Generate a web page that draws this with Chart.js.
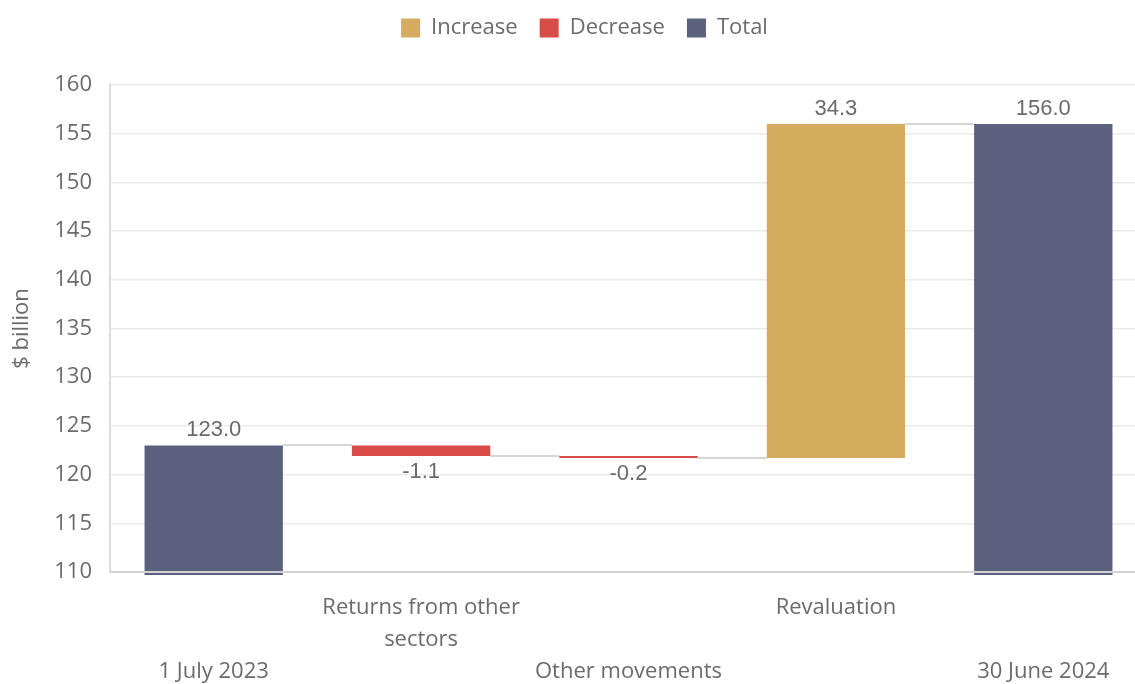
<!DOCTYPE html>
<html>
<head>
<meta charset="utf-8">
<script src="https://cdn.jsdelivr.net/npm/chart.js@4.4.1/dist/chart.umd.min.js"></script>
<style>
  html, body { margin: 0; padding: 0; background: #fff; overflow: hidden; }
  #wrap { width: 1147px; height: 684px; position: relative; }
</style>
</head>
<body>
<div id="wrap"><canvas id="chart"></canvas></div>
<script>
// staggered category labels: blank lines push every other label down
const categories = [
  ['', '', '1 July 2023'],
  ['Returns from other', 'sectors'],
  ['', '', 'Other movements'],
  ['Revaluation'],
  ['', '', '30 June 2024']
];
const steps = [123.0, -1.1, -0.2, 34.3, 156.0];
const stepKinds = ['total', 'decrease', 'decrease', 'increase', 'total'];
const stepLabels = ['123.0', '-1.1', '-0.2', '34.3', '156.0'];
const yMin = 110;
const yMax = 160;
const yStep = 5;

const colors = {
    increase: '#D6AC5E',
    decrease: '#D84B46',
    total: '#5A607E'
};
const legendNames = { increase: 'Increase', decrease: 'Decrease', total: 'Total' };

const textGrey = '#6b6b6b';
const uiFont = '"Open Sans", "Noto Sans", sans-serif';

// running totals -> floating bars
let running = 0;
const ranges = steps.map((v, i) => {
    if (stepKinds[i] === 'total') {
        running = v;
        return [0, v];
    }
    const start = running;
    running = Math.round((running + v) * 10) / 10;
    return [start, running];
});
const levels = ranges.map(r => r[1]);

const connectorPlugin = {
    id: 'connectors',
    beforeDatasetsDraw(chart) {
        const ctx = chart.ctx;
        const meta = chart.getDatasetMeta(0);
        const y = chart.scales.y;
        ctx.save();
        ctx.strokeStyle = '#d6d6d6';
        ctx.lineWidth = 2;
        for (let i = 0; i < meta.data.length - 1; i++) {
            const a = meta.data[i];
            const b = meta.data[i + 1];
            const py = Math.round(y.getPixelForValue(levels[i]));
            ctx.beginPath();
            ctx.moveTo(a.x + a.width / 2, py);
            ctx.lineTo(b.x - b.width / 2, py);
            ctx.stroke();
        }
        ctx.restore();
    },
    afterDatasetsDraw(chart) {
        const ctx = chart.ctx;
        const area = chart.chartArea;
        const meta = chart.getDatasetMeta(0);
        ctx.save();
        // bottom axis line sits over the bars
        ctx.strokeStyle = '#d2d2d6';
        ctx.lineWidth = 2;
        ctx.beginPath();
        ctx.moveTo(area.left, area.bottom);
        ctx.lineTo(area.right, area.bottom);
        ctx.stroke();

        ctx.font = '22px "Liberation Sans", Arial, sans-serif';
        ctx.fillStyle = textGrey;
        ctx.textAlign = 'center';
        ctx.textBaseline = 'middle';
        meta.data.forEach((bar, i) => {
            const top = Math.min(bar.y, bar.base);
            const bottom = Math.max(bar.y, bar.base);
            if (steps[i] < 0) {
                ctx.fillText(stepLabels[i], bar.x, bottom + 16);
            } else {
                ctx.fillText(stepLabels[i], bar.x, top - 15);
            }
        });
        ctx.restore();
    }
};

const legendSizePlugin = {
    id: 'legendSize',
    beforeInit(chart) {
        const fit = chart.legend.fit;
        chart.legend.fit = function () {
            fit.bind(chart.legend)();
            this.height = 90;
        };
    },
    afterLayout(chart) {
        chart.legend.left += 11;
        chart.legend.right += 11;
    }
};

new Chart(document.getElementById('chart'), {
    type: 'bar',
    data: {
        labels: categories,
        datasets: [{
            data: ranges,
            backgroundColor: stepKinds.map(k => colors[k]),
            borderWidth: 0,
            borderSkipped: false,
            categoryPercentage: 1,
            barPercentage: 0.667,
            clip: { left: 0, top: 0, right: 0, bottom: 3 }
        }]
    },
    options: {
        responsive: true,
        maintainAspectRatio: false,
        animation: false,
        layout: { padding: { top: -5, left: 0, right: 0, bottom: 0 } },
        plugins: {
            tooltip: { enabled: false },
            legend: {
                position: 'top',
                labels: {
                    font: { family: uiFont, size: 22 },
                    color: textGrey,
                    boxWidth: 19,
                    boxHeight: 19,
                    padding: 22,
                    generateLabels: () => ['increase', 'decrease', 'total'].map(k => ({
                        text: legendNames[k],
                        fillStyle: colors[k],
                        strokeStyle: colors[k],
                        lineWidth: 0,
                        fontColor: textGrey,
                        hidden: false
                    }))
                },
                onClick: () => {}
            }
        },
        scales: {
            x: {
                afterFit(scale) { scale.height = 112; },
                grid: { display: false, drawTicks: false },
                border: { display: false },
                ticks: {
                    font: { family: uiFont, size: 22, lineHeight: 1.45 },
                    color: textGrey,
                    padding: 20,
                    maxRotation: 0,
                    autoSkip: false
                }
            },
            y: {
                min: yMin,
                max: yMax,
                afterFit(scale) { scale.width = 110; },
                grid: { color: '#ebebeb', lineWidth: 1.5, drawTicks: false },
                border: { display: true, color: '#dcdcdc', width: 2 },
                ticks: {
                    stepSize: yStep,
                    font: { family: uiFont, size: 22 },
                    color: textGrey,
                    padding: 18
                },
                title: {
                    display: true,
                    text: '$ billion',
                    font: { family: uiFont, size: 22 },
                    color: textGrey,
                    padding: { top: 9, bottom: 0 }
                }
            }
        }
    },
    plugins: [connectorPlugin, legendSizePlugin]
});
</script>
</body>
</html>
